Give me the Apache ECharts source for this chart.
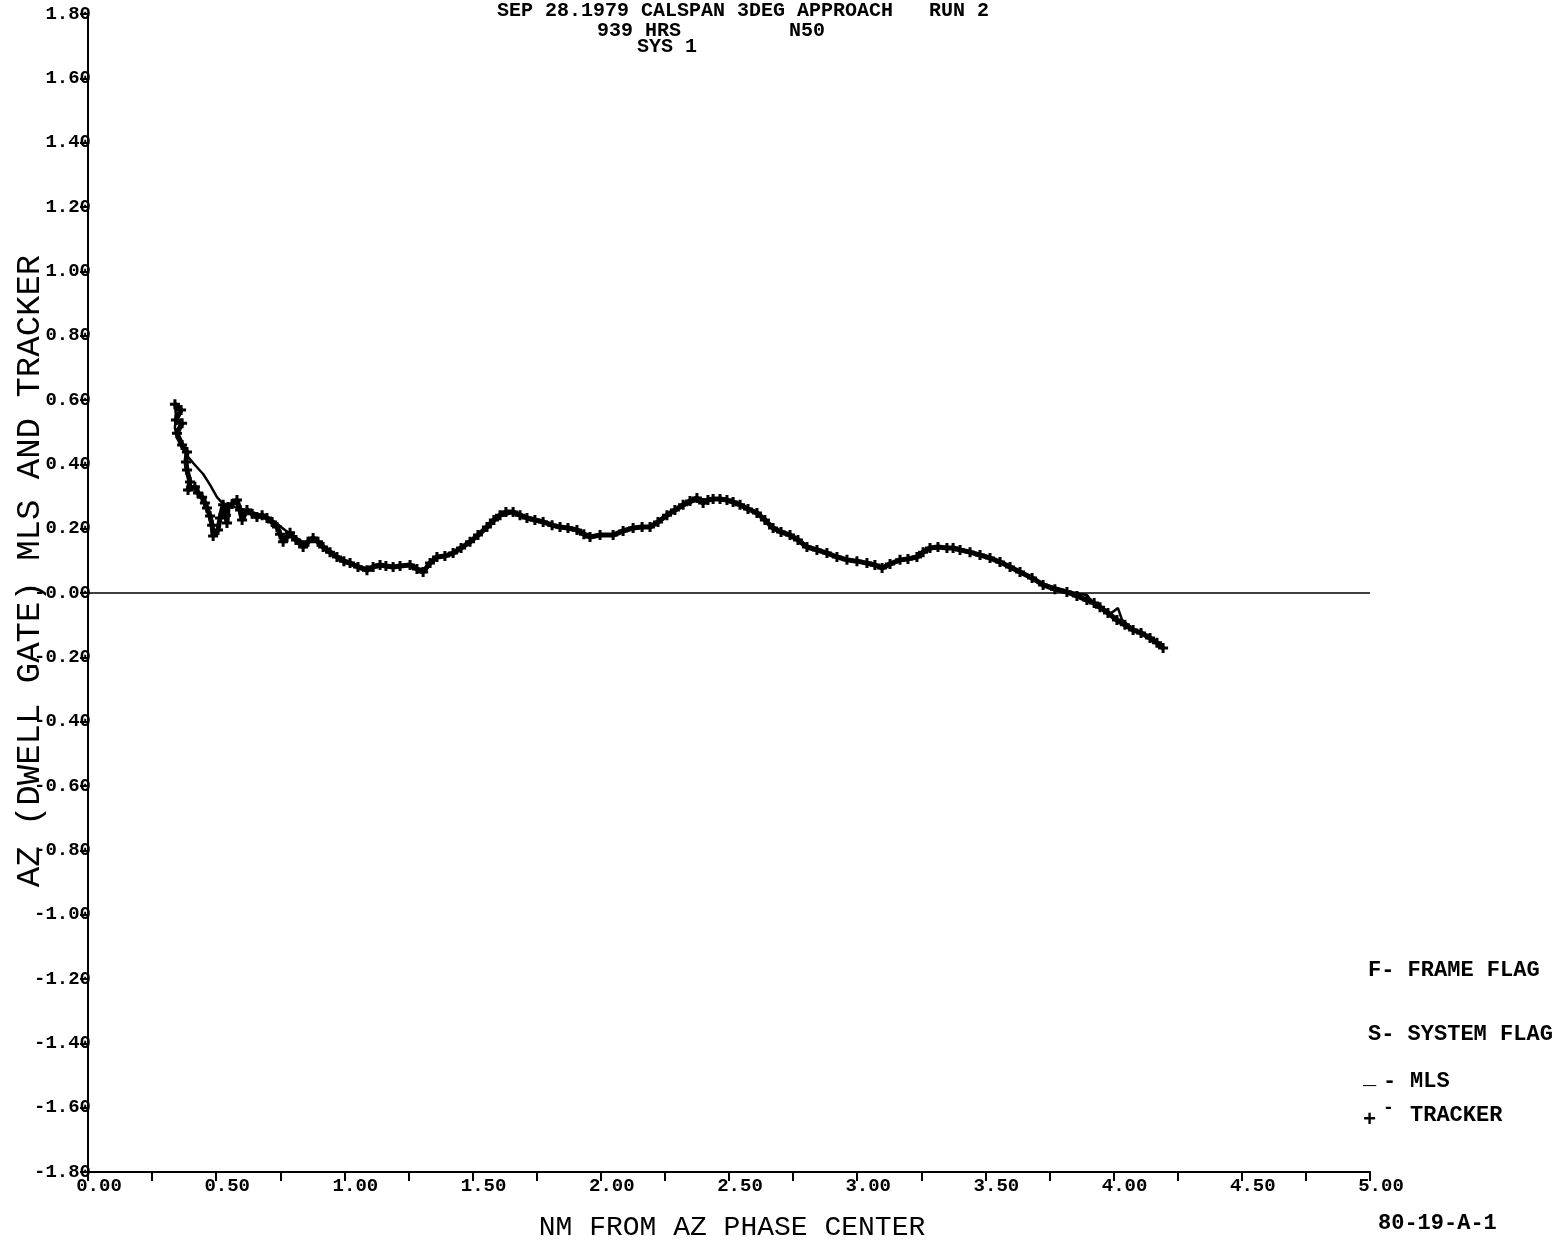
<!DOCTYPE html>
<html><head><meta charset="utf-8">
<script src="https://cdn.jsdelivr.net/npm/echarts@6/dist/echarts.min.js"></script>
<style>html,body{margin:0;padding:0;background:#fff}#c{width:1560px;height:1248px}</style>
</head><body><div id="c"></div>
<script>
// ---- text ----
const titleLines = ['SEP 28.1979 CALSPAN 3DEG APPROACH   RUN 2', '939 HRS         N50', 'SYS 1'];
const xAxisTitle = 'NM FROM AZ PHASE CENTER';
const yAxisTitle = 'AZ (DWELL GATE) MLS AND TRACKER';
const legendLines = ['F- FRAME FLAG', 'S- SYSTEM FLAG'];
const seriesNames = ['MLS', 'TRACKER'];
const figureId = '80-19-A-1';

// ---- tick labels ----
const xTickLabels = ['0.00','0.50','1.00','1.50','2.00','2.50','3.00','3.50','4.00','4.50','5.00'];
const yTickLabels = [' 1.80',' 1.60',' 1.40',' 1.20',' 1.00',' 0.80',' 0.60',' 0.40',' 0.20','-0.00',
                     '-0.20','-0.40','-0.60','-0.80','-1.00','-1.20','-1.40','-1.60','-1.80'];

// ---- data: [NM from AZ phase center, AZ error] ----
const trackerData = [
 [0.339,0.587],[0.363,0.569],[0.343,0.538],[0.367,0.528],[0.347,0.497],[0.367,0.460],[0.386,0.438],
 [0.382,0.407],[0.386,0.382],[0.398,0.345],[0.390,0.320],[0.417,0.330],[0.429,0.311],[0.445,0.298],
 [0.456,0.280],[0.464,0.264],[0.476,0.239],[0.484,0.211],[0.488,0.177],[0.507,0.196],[0.515,0.233],
 [0.527,0.274],[0.538,0.242],[0.542,0.218],[0.546,0.267],[0.562,0.277],[0.581,0.289],[0.593,0.258],
 [0.601,0.227],[0.620,0.258],[0.640,0.246],[0.659,0.236],[0.679,0.242],[0.698,0.233],[0.718,0.221],
 [0.737,0.205],[0.749,0.183],[0.761,0.159],[0.776,0.174],[0.788,0.187],[0.811,0.165],[0.839,0.143],
 [0.858,0.159],[0.878,0.171],[0.897,0.159],[0.917,0.143],[0.944,0.127],[0.971,0.112],[0.998,0.099],
 [1.022,0.093],[1.053,0.081],[1.088,0.071],[1.112,0.081],[1.139,0.087],[1.162,0.084],[1.190,0.081],
 [1.217,0.084],[1.256,0.087],[1.283,0.075],[1.307,0.065],[1.334,0.093],[1.361,0.112],[1.392,0.115],
 [1.424,0.124],[1.455,0.140],[1.490,0.159],[1.521,0.180],[1.556,0.205],[1.583,0.227],[1.607,0.242],
 [1.630,0.252],[1.658,0.252],[1.685,0.242],[1.712,0.233],[1.743,0.227],[1.775,0.221],[1.810,0.211],
 [1.841,0.205],[1.872,0.202],[1.907,0.196],[1.934,0.183],[1.958,0.174],[1.997,0.180],[2.048,0.180],
 [2.087,0.193],[2.126,0.202],[2.161,0.205],[2.192,0.205],[2.223,0.221],[2.258,0.242],[2.289,0.258],
 [2.321,0.274],[2.348,0.286],[2.375,0.295],[2.399,0.280],[2.418,0.289],[2.438,0.292],[2.465,0.292],
 [2.492,0.289],[2.516,0.283],[2.543,0.274],[2.574,0.261],[2.609,0.249],[2.640,0.227],[2.672,0.202],
 [2.703,0.190],[2.738,0.180],[2.769,0.165],[2.804,0.143],[2.843,0.134],[2.882,0.124],[2.921,0.112],
 [2.960,0.103],[2.999,0.099],[3.038,0.093],[3.069,0.087],[3.097,0.078],[3.128,0.090],[3.167,0.103],
 [3.198,0.106],[3.233,0.112],[3.257,0.127],[3.284,0.140],[3.315,0.143],[3.350,0.140],[3.374,0.140],
 [3.401,0.134],[3.440,0.127],[3.479,0.118],[3.518,0.109],[3.557,0.096],[3.596,0.081],[3.635,0.065],
 [3.682,0.047],[3.725,0.025],[3.771,0.012],[3.818,0.003],[3.857,-0.009],[3.896,-0.022],[3.924,-0.031],
 [3.947,-0.044],[3.978,-0.062],[4.013,-0.084],[4.044,-0.099],[4.076,-0.115],[4.107,-0.124],
 [4.142,-0.140],[4.169,-0.155],[4.193,-0.171]
];
const mlsData = [
 [0.339,0.590],[0.343,0.550],[0.339,0.513],[0.347,0.482],[0.367,0.451],[0.390,0.423],[0.417,0.398],
 [0.449,0.370],[0.476,0.336],[0.503,0.298],[0.523,0.280],[0.546,0.274],[0.573,0.267],[0.612,0.258],
 [0.651,0.249],[0.690,0.236],[0.729,0.221],[0.768,0.196],[0.807,0.174],[0.846,0.155],[0.885,0.165],
 [0.924,0.143],[0.971,0.115],[1.022,0.093],[1.080,0.078],[1.139,0.084],[1.197,0.084],[1.256,0.084],
 [1.307,0.068],[1.361,0.109],[1.424,0.124],[1.490,0.155],[1.556,0.202],[1.607,0.239],[1.658,0.249],
 [1.712,0.233],[1.775,0.218],[1.841,0.205],[1.907,0.193],[1.958,0.177],[2.048,0.183],[2.126,0.199],
 [2.192,0.208],[2.258,0.239],[2.321,0.270],[2.375,0.289],[2.438,0.292],[2.492,0.286],[2.543,0.274],
 [2.609,0.246],[2.672,0.205],[2.738,0.177],[2.804,0.146],[2.882,0.124],[2.960,0.106],[3.038,0.093],
 [3.097,0.081],[3.167,0.099],[3.233,0.115],[3.284,0.137],[3.350,0.143],[3.401,0.137],[3.479,0.121],
 [3.557,0.096],[3.635,0.068],[3.725,0.028],[3.818,0.006],[3.869,-0.003],[3.896,-0.006],[3.916,-0.028],
 [3.947,-0.040],[3.986,-0.065],[4.017,-0.047],[4.033,-0.084],[4.076,-0.112],[4.142,-0.137],[4.193,-0.168]
];

const FONT = '"Liberation Mono", "DejaVu Sans Mono", monospace';
const plus = 'path://M-1.2,-4 L1.2,-4 L1.2,-1.2 L4,-1.2 L4,1.2 L1.2,1.2 L1.2,4 L-1.2,4 L-1.2,1.2 L-4,1.2 L-4,-1.2 L-1.2,-1.2 Z';

const chart = echarts.init(document.getElementById('c'), null, {renderer: 'canvas'});

function txt(x, y, s, size, opts) {
  return Object.assign({
    type: 'text', x: x, y: y, silent: true,
    style: Object.assign({text: s, fill: '#000', font: (opts && opts.weight ? opts.weight + ' ' : '') + size + 'px ' + FONT,
      textAlign: 'left', textVerticalAlign: 'middle'}, opts && opts.style)
  }, opts && opts.el);
}

const graphics = [
  txt(497, 11, titleLines[0], 20, {weight: 'bold'}),
  txt(597, 31, titleLines[1], 20, {weight: 'bold'}),
  txt(637, 47, titleLines[2], 20, {weight: 'bold'}),
  txt(732, 1228, xAxisTitle, 28),
  txt(30, 571, yAxisTitle, 34, {el: {rotation: Math.PI / 2}}),
  txt(1368, 970, legendLines[0], 22, {weight: 'bold'}),
  txt(1368, 1034, legendLines[1], 22, {weight: 'bold'}),
  txt(1363, 1078, '_', 22, {weight: 'bold'}),
  txt(1383, 1081, '-', 22, {weight: 'bold'}),
  txt(1410, 1081, seriesNames[0], 22, {weight: 'bold'}),
  txt(1363, 1120, '+', 22, {weight: 'bold'}),
  txt(1383, 1108, '-', 18, {weight: 'bold'}),
  txt(1410, 1115, seriesNames[1], 22, {weight: 'bold'}),
  txt(1378, 1223, figureId, 22, {weight: 'bold'})
];
graphics[3].style.textAlign = 'center';
graphics[4].style.textAlign = 'center';

chart.setOption({
  animation: false,
  backgroundColor: '#fff',
  grid: {left: 88, right: 190, top: 14, bottom: 76, containLabel: false},
  xAxis: {
    type: 'value', min: 0, max: 5, interval: 0.25,
    axisLine: {show: true, onZero: false, lineStyle: {color: '#000', width: 2}},
    axisTick: {show: true, length: 9, lineStyle: {color: '#000', width: 2}},
    splitLine: {show: false},
    axisLabel: {
      margin: 5, color: '#000', fontFamily: FONT, fontSize: 19, fontWeight: 'bold',
      formatter: function (v) {
        const k = Math.round(v * 4);
        if (k % 2 !== 0) return '';
        return '{a|' + xTickLabels[k / 2] + '}';
      },
      rich: {a: {padding: [0, 0, 0, 22], fontFamily: FONT, fontSize: 19, fontWeight: 'bold', color: '#000'}}
    }
  },
  yAxis: {
    type: 'value', min: -1.8, max: 1.8, interval: 0.2,
    axisLine: {show: true, onZero: false, lineStyle: {color: '#000', width: 2}},
    axisTick: {show: true, length: 8, lineStyle: {color: '#000', width: 2}},
    splitLine: {show: false},
    axisLabel: {
      margin: -3, color: '#000', fontFamily: FONT, fontSize: 19, fontWeight: 'bold',
      formatter: function (v) {
        const k = Math.round((1.8 - v) / 0.2);
        return yTickLabels[k];
      }
    }
  },
  series: [
    {
      name: seriesNames[0], type: 'line', data: mlsData, showSymbol: false,
      lineStyle: {color: '#000', width: 2.5}, z: 3,
      markLine: {
        silent: true, symbol: ['none', 'none'], label: {show: false},
        lineStyle: {color: '#000', width: 1.5, type: 'solid'},
        data: [{yAxis: 0}]
      }
    },
    {
      name: seriesNames[1], type: 'line', data: trackerData,
      symbol: plus, symbolSize: 10, showSymbol: true,
      itemStyle: {color: '#000'},
      lineStyle: {color: '#000', width: 5}, z: 4
    }
  ],
  graphic: graphics
});
</script>
</body></html>
